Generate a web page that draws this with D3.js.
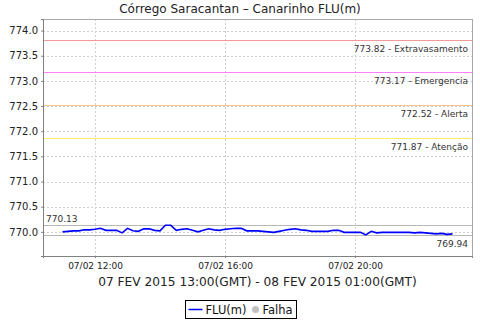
<!DOCTYPE html>
<html>
<head>
<meta charset="utf-8">
<script src="https://cdn.jsdelivr.net/npm/d3@7"></script>
<style>
  body { margin: 0; background: #fff; }
  svg { font-family: "DejaVu Sans", sans-serif; }
</style>
</head>
<body>
<svg id="chart" width="480" height="320"></svg>
<script>
// leituras a cada 10 min, 11:00 -> 23:00 (hora local)
var start = Date.UTC(2015, 1, 7, 11, 0);
var step = 10 * 60 * 1000;
var levels = [
  770.00, 770.01, 770.02, 770.02, 770.04, 770.04, 770.05, 770.07, 770.03, 770.03,
  770.03, 769.98, 770.07, 770.02, 770.01, 770.06, 770.06, 770.03, 770.02, 770.13,
  770.13, 770.03, 770.05, 770.06, 770.03, 770.00, 770.03, 770.06, 770.04, 770.03,
  770.05, 770.06, 770.07, 770.07, 770.02, 770.02, 770.02, 770.01, 770.00, 769.99,
  770.01, 770.03, 770.05, 770.06, 770.04, 770.03, 770.01, 770.01, 770.01, 770.01,
  770.03, 770.03, 769.99, 769.99, 769.99, 769.99, 769.94, 770.01, 769.98, 769.99,
  769.99, 769.99, 769.99, 769.99, 769.99, 769.98, 769.99, 769.98, 769.97, 769.96,
  769.97, 769.95, 769.96
];
var series = levels.map(function(v, i) { return { t: new Date(start + i * step), v: v }; });

var markerValues = [773.82, 773.17, 772.52, 771.87];
var markerNames = ["Extravasamento", "Emergencia", "Alerta", "Atenção"];
var markerColors = ["#f29a9a", "#ff80ff", "#fcc48a", "#ffee66"];

var yTicks = [770.0, 770.5, 771.0, 771.5, 772.0, 772.5, 773.0, 773.5, 774.0];
var xTicks = [Date.UTC(2015, 1, 7, 12), Date.UTC(2015, 1, 7, 16), Date.UTC(2015, 1, 7, 20)];

var title = "Córrego Saracantan – Canarinho FLU(m)";
var xLabel = "07 FEV 2015 13:00(GMT) - 08 FEV 2015 01:00(GMT)";

var pLeft = 43, pRight = 472, pTop = 19, pBottom = 256;
var svg = d3.select("#chart");

var tMin = d3.min(series, function(d){ return d.t; }),
    tMax = d3.max(series, function(d){ return d.t; }),
    pad = (tMax - tMin) * 0.05;

var x = d3.scaleUtc()
  .domain([new Date(+tMin - pad), new Date(+tMax + pad)])
  .range([pLeft, pRight]);
var y = d3.scaleLinear()
  .domain([769.52, 774.23])
  .range([pBottom, pTop]);

// titulo
svg.append("text")
  .attr("x", 240).attr("y", 13)
  .attr("text-anchor", "middle")
  .style("font-size", "12px")
  .attr("fill", "#222")
  .text(title);

// grade
var grid = svg.append("g");
grid.selectAll("line.gy").data(yTicks).enter().append("line")
  .attr("x1", pLeft).attr("x2", pRight)
  .attr("y1", function(d){ return Math.round(y(d)) + 0.5; })
  .attr("y2", function(d){ return Math.round(y(d)) + 0.5; })
  .attr("stroke", "#d0d0d0").attr("stroke-dasharray", "2,2");
grid.selectAll("line.gx").data(xTicks).enter().append("line")
  .attr("y1", pTop).attr("y2", pBottom)
  .attr("x1", function(d){ return Math.round(x(d)) + 0.5; })
  .attr("x2", function(d){ return Math.round(x(d)) + 0.5; })
  .attr("stroke", "#d0d0d0").attr("stroke-dasharray", "2,2");

// contorno
svg.append("rect")
  .attr("x", pLeft + 0.5).attr("y", pTop + 0.5)
  .attr("width", pRight - pLeft).attr("height", pBottom - pTop)
  .attr("fill", "none").attr("stroke", "#a8a8a8");

// marcadores de nivel
var mk = svg.append("g");
markerValues.forEach(function(v, i) {
  var yy = Math.round(y(v)) + 0.5;
  mk.append("line")
    .attr("x1", pLeft).attr("x2", pRight)
    .attr("y1", yy).attr("y2", yy)
    .attr("stroke", markerColors[i]);
  mk.append("text")
    .attr("x", pRight - 4).attr("y", yy + 11)
    .attr("text-anchor", "end")
    .style("font-size", "9px")
    .attr("fill", "#333")
    .text(v.toFixed(2) + " - " + markerNames[i]);
});

// linhas de min / max
var vMax = d3.max(levels), vMin = d3.min(levels);
[vMax, vMin].forEach(function(v) {
  var yy = Math.round(y(v)) + 0.5;
  mk.append("line")
    .attr("x1", pLeft).attr("x2", pRight)
    .attr("y1", yy).attr("y2", yy)
    .attr("stroke", "#b8b8b8");
});
mk.append("text")
  .attr("x", pLeft + 3).attr("y", Math.round(y(vMax)) - 3)
  .style("font-size", "9px").attr("fill", "#333")
  .text(vMax.toFixed(2));
mk.append("text")
  .attr("x", pRight - 4).attr("y", Math.round(y(vMin)) + 12)
  .attr("text-anchor", "end")
  .style("font-size", "9px").attr("fill", "#333")
  .text(vMin.toFixed(2));

// serie
svg.append("path")
  .datum(series)
  .attr("fill", "none")
  .attr("stroke", "#0000ff")
  .attr("stroke-width", 1.6)
  .attr("d", d3.line()
    .x(function(d){ return x(d.t); })
    .y(function(d){ return y(d.v); }));

// eixos
var yAxis = svg.append("g")
  .attr("transform", "translate(" + pLeft + ",0)")
  .call(d3.axisLeft(y).tickValues(yTicks).tickFormat(d3.format(".1f")).tickSize(2).tickPadding(3));
var xAxis = svg.append("g")
  .attr("transform", "translate(0," + pBottom + ")")
  .call(d3.axisBottom(x).tickValues(xTicks.map(function(t){ return new Date(t); }))
    .tickFormat(d3.utcFormat("%d/%m %H:%M")).tickSize(2).tickPadding(5));
[yAxis, xAxis].forEach(function(a) {
  a.select(".domain").attr("stroke", "#808080");
  a.selectAll(".tick line").attr("stroke", "#808080");
  a.selectAll("text").attr("fill", "#222").style("font-family", "DejaVu Sans");
});
yAxis.selectAll("text").style("font-size", "10px");
xAxis.selectAll("text").style("font-size", "9px");

svg.append("text")
  .attr("x", (pLeft + pRight) / 2).attr("y", 286)
  .attr("text-anchor", "middle")
  .style("font-size", "12.2px").attr("fill", "#222")
  .text(xLabel);

// legenda
var lg = svg.append("g").attr("transform", "translate(185.5,300.5)");
lg.append("rect").attr("width", 111).attr("height", 18)
  .attr("fill", "#fff").attr("stroke", "#000");
lg.append("line").attr("x1", 3).attr("x2", 17).attr("y1", 9).attr("y2", 9)
  .attr("stroke", "#0000ff").attr("stroke-width", 1.5);
lg.append("text").attr("x", 20).attr("y", 13)
  .style("font-size", "11.5px").attr("fill", "#111").text("FLU(m)");
lg.append("circle").attr("cx", 70).attr("cy", 9).attr("r", 3.5).attr("fill", "#c0c0c0");
lg.append("text").attr("x", 77).attr("y", 13)
  .style("font-size", "11.5px").attr("fill", "#111").text("Falha");
</script>
</body>
</html>
